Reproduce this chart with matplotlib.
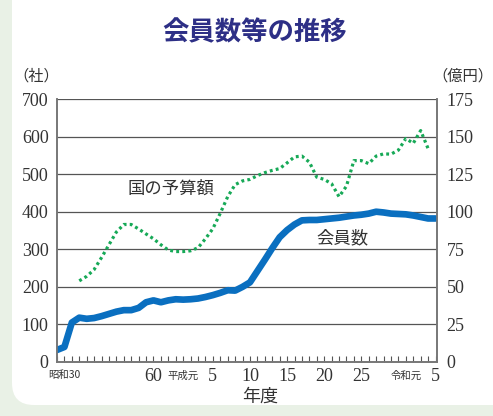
import numpy as np
import matplotlib.pyplot as plt
import matplotlib.transforms as mtransforms
from matplotlib.patches import FancyBboxPatch

nan = np.nan

# 会員数（社）: 昭和30年度から令和5年度まで
members = [32, 40, 105, 118, 115, 117, 122, 128, 134, 138,
           138, 144, 159, 164, 159, 164, 167, 166, 167, 169,
           173, 178, 184, 191, 190, 200, 212, 242, 272, 303,
           332, 351, 366, 377, 378, 378, 380, 382, 384, 387,
           390, 392, 395, 400, 398, 395, 394, 393, 390, 386,
           382, 382]

# 国の予算額（億円）
budget = [nan, nan, nan, 54, 57, 61.5, 69.5, 78, 86.5, 91.5,
          91.5, 88.5, 85.2, 82, 78, 74.5, 73.5, 73.5, 74, 76,
          82, 88.7, 99, 110, 118, 120.5, 121.5, 124, 126, 127.5,
          128.7, 132.5, 136.5, 137, 133, 123, 121.5, 118.6, 110, 117,
          134, 134, 132, 137, 138.5, 138.3, 141, 148.7, 145.5, 154,
          142, nan]

tick_pos = [0, 13, 17, 21, 26, 31, 36, 41, 47, 51]
tick_text = ['昭和30', '60', '平成元', '5', '10', '15', '20', '25', '令和元', '5']

left_ticks = [0, 100, 200, 300, 400, 500, 600, 700]
right_ticks = [0, 25, 50, 75, 100, 125, 150, 175]

cjk = ['Noto Sans CJK JP', 'DejaVu Sans']
serif = ['Liberation Serif', 'DejaVu Serif']
txt = '#333333'

x = np.arange(len(members))

fig = plt.figure(figsize=(4.93, 4.16), dpi=100)
fig.patch.set_facecolor('#e9f1e6')

# 背景の白いパネル
bg = fig.add_axes([0, 0, 1, 1])
bg.set_xlim(0, 493)
bg.set_ylim(416, 0)
bg.axis('off')
bg.add_patch(FancyBboxPatch((12, -40), 540, 445,
                            boxstyle='round,pad=0,rounding_size=22',
                            facecolor='white', edgecolor='none'))

ax = fig.add_axes([57 / 493, (416 - 362) / 416, 380 / 493, 263 / 416])
ax.set_facecolor('white')
ax2 = ax.twinx()

ax.plot(x, members, color='#0a6fc0', lw=4.8, solid_capstyle='round',
        solid_joinstyle='round', zorder=3)
ax2.plot(x, budget, color='#17a957', lw=2.3, linestyle=(0, (0.9, 1.0)),
         zorder=3)

ax.set_xlim(0, 51.2)
ax.set_ylim(0, 700)
ax2.set_ylim(0, 175)

for v in left_ticks[1:]:
    ax.axhline(v, color='#555555', lw=0.9, zorder=1)

# x軸: 目盛りは内向き、ラベルは手で置く
ax.set_xticks(x)
ax.set_xticklabels([])
ax.tick_params(axis='x', direction='in', length=4, width=0.8,
               color='#555555')
xtrans = ax.get_xaxis_transform()
for i, (pos, t) in enumerate(zip(tick_pos, tick_text)):
    tr = xtrans
    if i == 0:
        tr = mtransforms.offset_copy(xtrans, fig=fig, x=7, y=0, units='dots')
    if t.isdigit():
        ax.text(pos, -0.022, t, transform=tr, family=serif, fontsize=13,
                color=txt, ha='center', va='top')
    else:
        ax.text(pos, -0.032, t, transform=tr, family=cjk, fontsize=7.5,
                color=txt, ha='center', va='top')

ax.set_yticks(left_ticks)
ax.set_yticklabels([str(v) for v in left_ticks], family=serif, fontsize=13,
                   color=txt)
ax.tick_params(axis='y', length=0, pad=6)
ax2.set_yticks(right_ticks)
ax2.set_yticklabels([str(v) for v in right_ticks], family=serif, fontsize=13,
                    color=txt)
ax2.tick_params(axis='y', length=0, pad=7)

for a in (ax, ax2):
    a.spines['top'].set_visible(False)
    for s in ('left', 'right', 'bottom'):
        a.spines[s].set_color('#777777')
        a.spines[s].set_linewidth(1.2)

ax.text(171, 189, '国の予算額', transform=bg.transData, family=cjk,
        fontsize=12.5, color=txt, ha='center', va='center')
ax.text(342, 238, '会員数', transform=bg.transData, family=cjk,
        fontsize=12.5, color=txt, ha='center', va='center')

fig.text(36 / 493, 1 - 76 / 416, '（社）', family=cjk, fontsize=11,
         color=txt, ha='center', va='center')
fig.text(463 / 493, 1 - 76 / 416, '（億円）', family=cjk, fontsize=11,
         color=txt, ha='center', va='center')
fig.text(260 / 493, 1 - 397 / 416, '年度', family=cjk, fontsize=13,
         color=txt, ha='center', va='center')
fig.text(255 / 493, 1 - 33 / 416, '会員数等の推移', family=cjk, fontsize=19,
         fontweight='bold', color='#2d2f86', ha='center', va='center')

fig.savefig('out.png', dpi=100)
